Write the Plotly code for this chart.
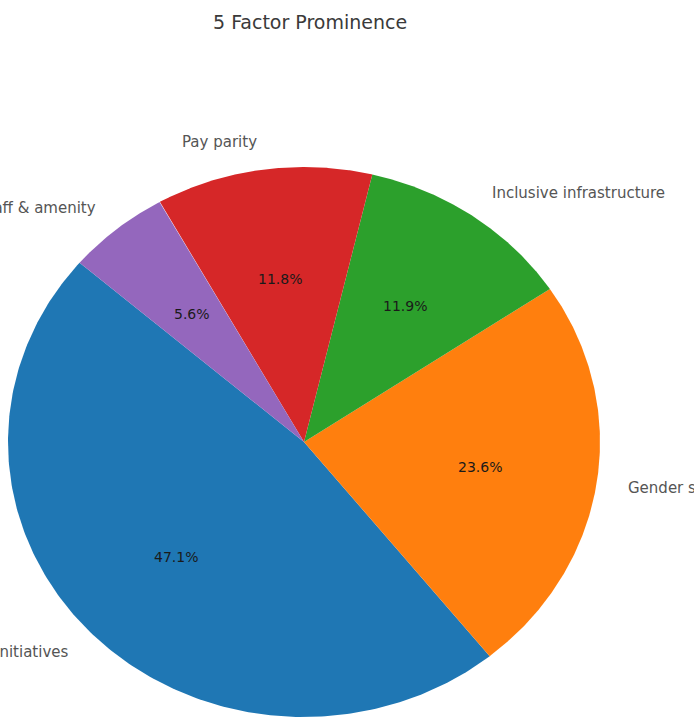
import numpy as np
import plotly.graph_objects as go

# Data
title = "5 Factor Prominence"
factors = ["Initiatives", "Gender sensitivity", "Inclusive infrastructure", "Pay parity", "Staff & amenity"]
shares = [47.1, 23.6, 11.9, 11.8, 5.6]
colors = ["#1f77b4", "#ff7f0e", "#2ca02c", "#d62728", "#9467bd"]
start_angle = 139.3  # degrees, wedges run counter-clockwise

W, H = 694, 718
# pie drawn in an unequal-aspect axis (wider than tall), like a non-equal matplotlib axes
cx_px, cy_px, rx_px, ry_px = 304, 442, 296, 275
x_range = [-cx_px / rx_px, (W - cx_px) / rx_px]
y_range = [-(H - cy_px) / ry_px, cy_px / ry_px]

fig = go.Figure()
total = sum(shares)
theta = start_angle
label_font = dict(family="DejaVu Sans", size=15, color="#555555")
pct_font = dict(family="DejaVu Sans", size=14, color="#1a1a1a")

for name, val, col in zip(factors, shares, colors):
    sweep = 360.0 * val / total
    t = np.radians(np.linspace(theta, theta + sweep, 240))
    xs = np.concatenate([[0.0], np.cos(t), [0.0]])
    ys = np.concatenate([[0.0], np.sin(t), [0.0]])
    fig.add_trace(go.Scatter(
        x=xs, y=ys, mode="lines", fill="toself", fillcolor=col,
        line=dict(width=0, color=col), hoverinfo="skip", showlegend=False,
    ))
    mid = np.radians(theta + sweep / 2)
    fig.add_annotation(
        x=0.6 * np.cos(mid), y=0.6 * np.sin(mid),
        text=f"{100 * val / total:.1f}%", showarrow=False,
        xanchor="center", yanchor="middle", font=pct_font,
    )
    lx, ly = 1.1 * np.cos(mid), 1.1 * np.sin(mid)
    fig.add_annotation(
        x=lx, y=ly, text=name, showarrow=False,
        xanchor="left" if lx > 0 else "right", yanchor="middle",
        font=label_font,
    )
    theta += sweep

fig.add_annotation(
    xref="paper", yref="paper", x=310 / W, y=1 - 22 / H,
    text=title, showarrow=False, xanchor="center", yanchor="middle",
    font=dict(family="DejaVu Sans", size=19, color="#3a3a3a"),
)

fig.update_xaxes(range=x_range, visible=False, fixedrange=True)
fig.update_yaxes(range=y_range, visible=False, fixedrange=True)
fig.update_layout(
    width=W, height=H, margin=dict(l=0, r=0, t=0, b=0),
    paper_bgcolor="white", plot_bgcolor="white",
)

fig.write_html("out.html")
